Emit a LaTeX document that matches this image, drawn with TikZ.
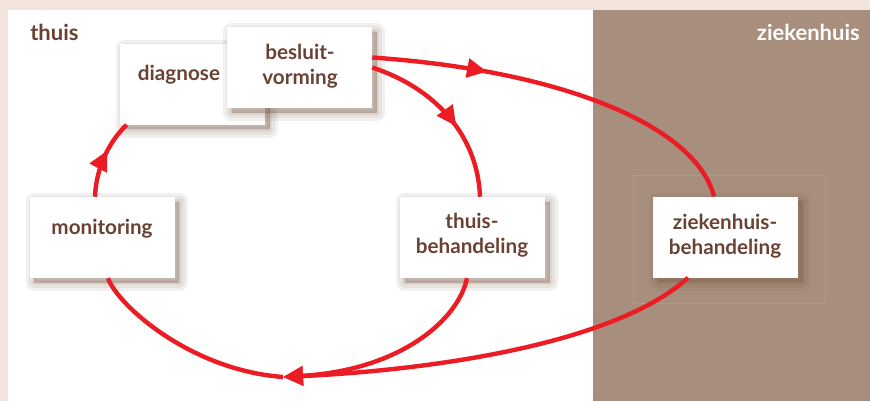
\documentclass[tikz,border=0pt]{standalone}
\usepackage{fontspec}
\setmainfont{Lato}
\usetikzlibrary{arrows.meta,calc,decorations.markings}
\definecolor{framepink}{RGB}{242,228,221}
\definecolor{hospbrown}{RGB}{168,142,125}
\definecolor{flowred}{RGB}{236,28,36}
\definecolor{inkbrown}{RGB}{106,66,52}
\definecolor{shadebrown}{RGB}{120,90,70}
\tikzset{
  softshade/.style={preaction={draw=shadebrown, fill=shadebrown, line width=#1, opacity=0.09,
    line join=round, transform canvas={shift={(3.5pt,-3.5pt)}}}},
  careblock/.style={fill=white, minimum width=108.75pt, minimum height=60.75pt, inner sep=0pt,
    softshade=13pt, softshade=8pt, softshade=4pt, softshade=0.5pt},
  blocktext/.style={font=\fontsize{15.5}{19}\selectfont\bfseries, text=inkbrown, align=center, inner sep=0.75pt},
  flow/.style={draw=flowred, line width=3.3pt},
  flowtip/.style={flow, -{Triangle[length=15pt,width=14pt]}},
  midtip/.style={flow, postaction={decorate},
    decoration={markings, mark=at position #1 with {\arrow{Triangle[length=15pt,width=14pt]}}}},
}
\begin{document}
\begin{tikzpicture}[x=0.75pt,y=0.75pt,yscale=-1,xscale=1]
\useasboundingbox (0,0) rectangle (870,401);
% background
\fill[framepink] (0,0) rectangle (870,401);
\fill[white] (8,10) rectangle (593,401);
\fill[hospbrown] (593,10) rectangle (870,401);
\draw[white, opacity=0.1, line width=0.5pt] (633,175) rectangle (825,303);
% Text Node
\draw (29,32) node [anchor=west] [inner sep=0.75pt, font=\fontsize{16.5}{18}\selectfont\bfseries, text=inkbrown] (home) {thuis};
% Text Node
\draw (861,32) node [anchor=east] [inner sep=0.75pt, font=\fontsize{16.5}{18}\selectfont\bfseries, text=white] (hosp) {ziekenhuis};
% blocks
\node[careblock] (diag) at (192.5,84) {};
\node[careblock] (besl) at (299.5,67.5) {};
\node[careblock] (mon) at (102,237.5) {};
\node[careblock] (thb) at (472.5,237.5) {};
\node[careblock] (zkb) at (725.5,237) {};
% Text Node
\draw (179,75) node [blocktext] (tdiag) {diagnose};
% Text Node
\draw (300,66) node [blocktext] (tbesl) {besluit-\\vorming};
% Text Node
\draw (102,229) node [blocktext] (tmon) {monitoring};
% Text Node
\draw (472,235) node [blocktext] (tthb) {thuis-\\behandeling};
% Text Node
\draw (725,236) node [blocktext] (tzkb) {ziekenhuis-\\behandeling};
% connectors
\coordinate (join) at (283,377);
\draw[midtip=0.6] ($(mon.north)+(-7,0)$) .. controls +(1,-27) and +(-19,18) .. ($(diag.south west)+(7,0)$);
\draw[midtip=0.3] ($(besl.east)+(0,-10)$) .. controls +(188,13) and +(-19,-71.5) .. ($(zkb.north)+(-11.5,0)$);
\draw[midtip=0.58] (besl.east) .. controls +(68,22.5) and +(-2,-57) .. ($(thb.north)+(7.5,0)$);
\draw[flowtip] ($(thb.south)+(-5.5,0)$) .. controls +(-9,42) and +(117,-7) .. (join);
\draw[flowtip] ($(zkb.south)+(-37.5,0)$) .. controls +(-68,62) and +(167,-8) .. (join);
\draw[flow] (join) .. controls +(-93,-7) and +(10,27) .. ($(mon.south)+(6,0)$);
\end{tikzpicture}
\end{document}
